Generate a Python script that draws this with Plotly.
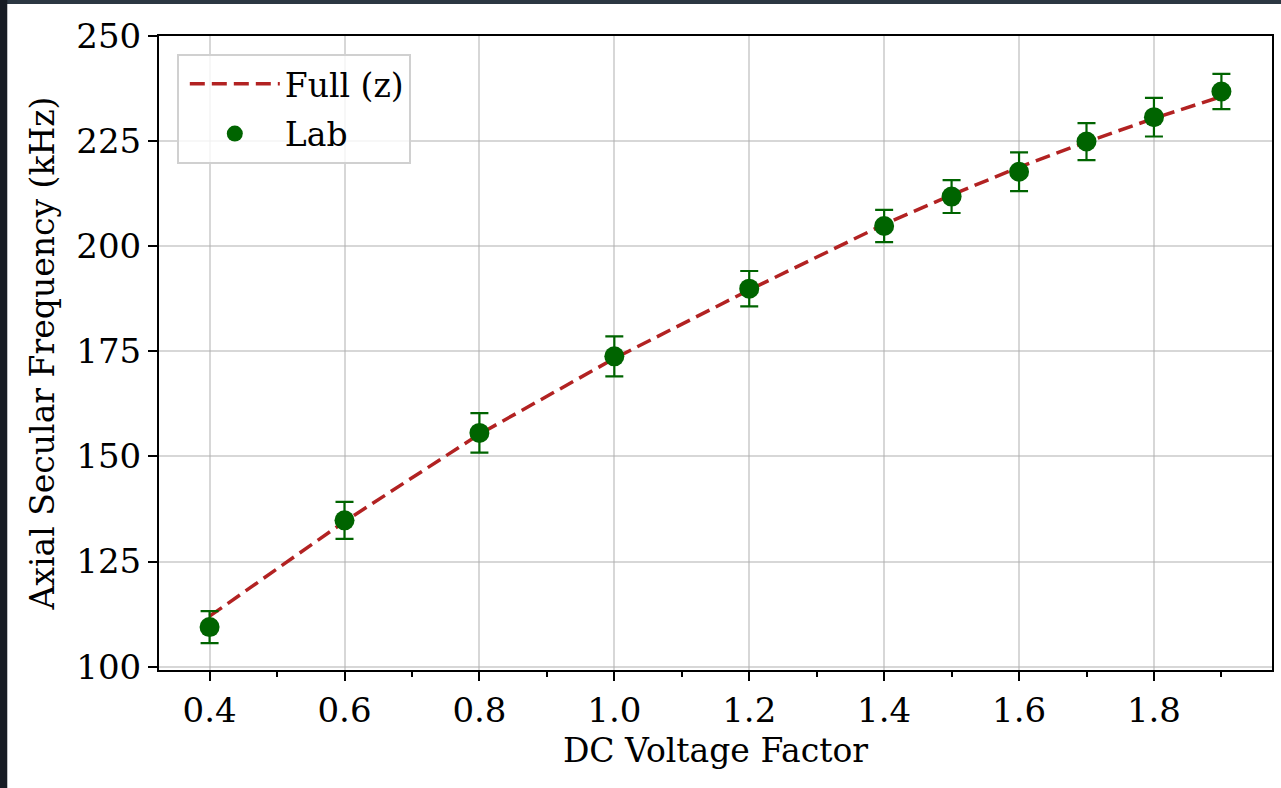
import plotly.graph_objects as go

# DC voltage factors and measured axial secular frequencies (kHz)
dc_factor = [0.4, 0.6, 0.8, 1.0, 1.2, 1.4, 1.5, 1.6, 1.7, 1.8, 1.9]
lab_freq = [109.4, 134.8, 155.6, 173.8, 189.9, 204.8, 211.8, 217.7, 224.9, 230.7, 236.8]
lab_err = [3.8, 4.4, 4.7, 4.75, 4.2, 3.85, 3.9, 4.6, 4.4, 4.6, 4.2]

# Full (z) model prediction at the same voltage factors
model_freq = [112.0, 134.5, 155.3, 173.3, 189.6, 205.2, 212.2, 218.8, 224.8, 230.4, 235.6]

x_ticks = [0.4, 0.6, 0.8, 1.0, 1.2, 1.4, 1.6, 1.8]
y_ticks = [100, 125, 150, 175, 200, 225, 250]

FONT = "DejaVu Serif"
W, H = 1281, 788
L, R, T, B = 159, 7, 36, 118

fig = go.Figure()

fig.add_trace(go.Scatter(
    x=dc_factor, y=model_freq, mode="lines", name="Full (z)",
    legendgroup="model",
    line=dict(color="#b22222", width=3.5, dash="15px,7px"),
))

fig.add_trace(go.Scatter(
    x=dc_factor, y=lab_freq, mode="markers", name="Lab",
    legendgroup="lab",
    marker=dict(color="#006400", size=20),
    error_y=dict(type="data", array=lab_err, visible=True,
                 color="#006400", thickness=2.2, width=9),
))

axis_common = dict(
    showline=True, linecolor="black", linewidth=2, mirror=True,
    ticks="outside", ticklen=9, tickwidth=1.8, tickcolor="black",
    showgrid=True, gridcolor="rgba(176,176,176,0.5)", gridwidth=1.6,
    zeroline=False,
    tickfont=dict(family=FONT, size=34, color="black"),
)

fig.update_xaxes(
    range=[0.325, 1.975], tickvals=x_ticks,
    ticktext=[f"{v:.1f}" for v in x_ticks],
    minor=dict(dtick=0.1, tick0=0.4, ticklen=5, tickwidth=1.6,
               tickcolor="black", ticks="outside", showgrid=False),
    title=dict(text="DC Voltage Factor", font=dict(family=FONT, size=33, color="black"),
               standoff=10),
    **axis_common,
)
fig.update_yaxes(
    range=[99.2, 250], tickvals=y_ticks,
    title=dict(text="Axial Secular Frequency (kHz)",
               font=dict(family=FONT, size=33, color="black"), standoff=12),
    **axis_common,
)

# dark window edges around the figure
x_left_edge = (7 - L) / (W - L - R)
y_top_edge = (H - B - 4) / (H - B - T)
fig.add_shape(type="rect", xref="paper", yref="paper",
              x0=-1, x1=2, y0=y_top_edge, y1=2,
              fillcolor="#2c3742", line_width=0, layer="above")
fig.add_shape(type="rect", xref="paper", yref="paper",
              x0=-1, x1=x_left_edge, y0=-1, y1=2,
              fillcolor="#171c24", line_width=0, layer="above")

fig.update_layout(
    width=W, height=H,
    margin=dict(l=L, r=R, t=T, b=B),
    paper_bgcolor="white", plot_bgcolor="white",
    font=dict(family=FONT, color="black"),
    showlegend=True,
    legend=dict(
        x=0.016, y=0.972, xanchor="left", yanchor="top",
        bgcolor="rgba(255,255,255,0.8)", bordercolor="#d0d0d0", borderwidth=2,
        font=dict(family=FONT, size=33, color="black"),
        itemwidth=90, indentation=6, traceorder="grouped", tracegroupgap=4,
    ),
)

fig.write_html("out.html")
